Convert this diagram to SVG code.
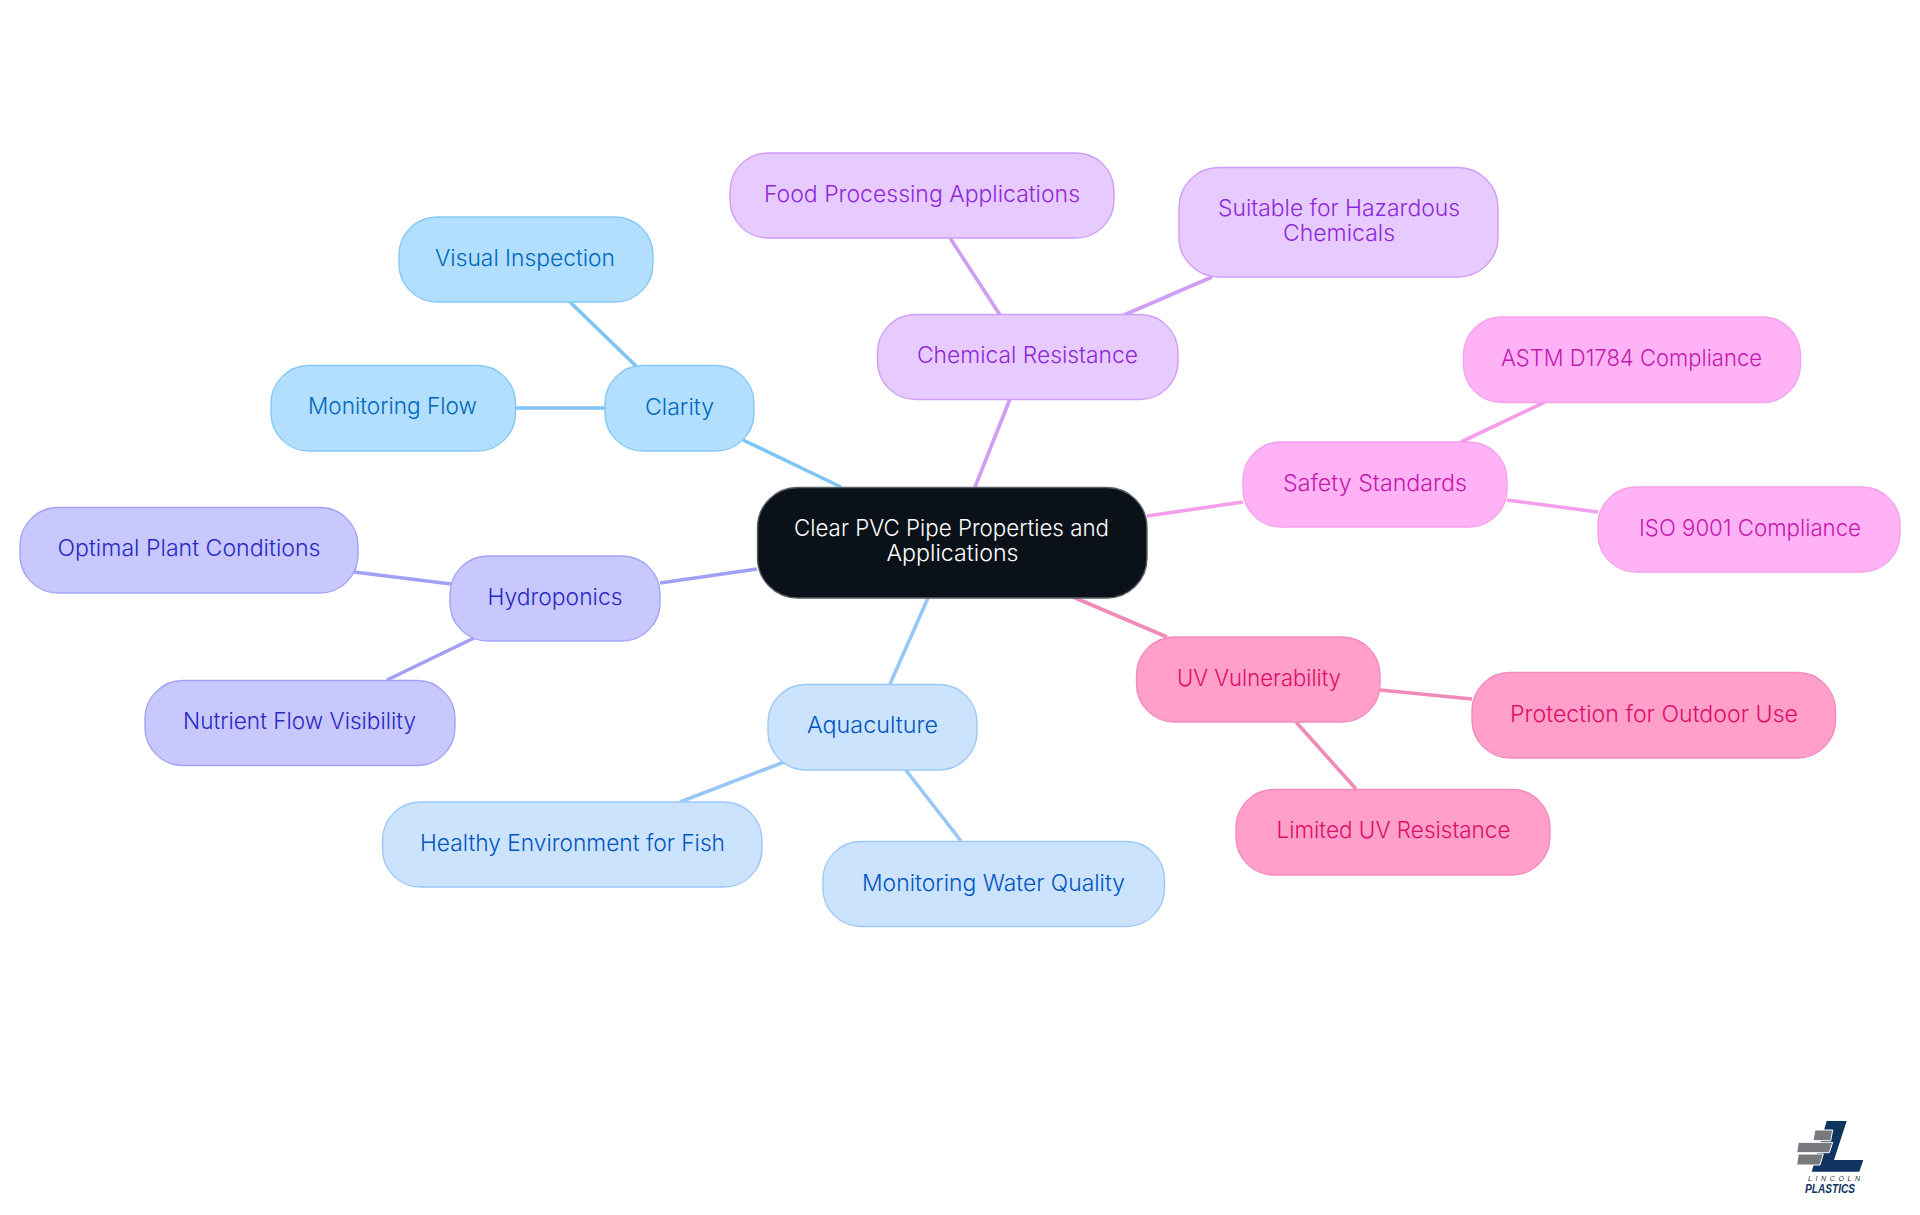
<svg xmlns="http://www.w3.org/2000/svg" width="1920" height="1215" viewBox="0 0 1920 1215">
<style>
text{font-family:"Inter","Noto Sans","Liberation Sans",sans-serif;font-size:23px;font-weight:350;text-anchor:middle}
.n{stroke-width:1.4}
.c line{stroke-width:3.6;fill:none}
.clar rect{fill:#B3DFFF;stroke:#85C8F5}.clar text{fill:#0068BC}
.hyd rect{fill:#C8C8FF;stroke:#A3A3F5}.hyd text{fill:#2828C4}
.aqu rect{fill:#CCE3FD;stroke:#9CC8F8}.aqu text{fill:#0055C0}
.che rect{fill:#E7CBFF;stroke:#CE9EF5}.che text{fill:#8F28D8}
.saf rect{fill:#FFB3F6;stroke:#F5A0EA}.saf text{fill:#C418AE}
.uvv rect{fill:#FF9FCA;stroke:#F28ABD}.uvv text{fill:#DC0E68}
.lc{stroke:#7FC4F5}.lh{stroke:#A0A0F5}.la{stroke:#99C7F5}.le{stroke:#CE9EF5}.ls{stroke:#F59EEB}.lu{stroke:#F08AB8}
</style>
<rect width="1920" height="1215" fill="#FFFFFF"/>
<g id="connectors" class="c">
<line class="lc" x1="743" y1="440" x2="841" y2="487"/>
<line class="lc" x1="570" y1="302" x2="636" y2="366"/>
<line class="lc" x1="516" y1="408" x2="605" y2="408"/>
<line class="le" x1="1010" y1="399" x2="975" y2="487"/>
<line class="le" x1="950" y1="238" x2="1000" y2="315"/>
<line class="le" x1="1212" y1="277" x2="1124" y2="315"/>
<line class="ls" x1="1147" y1="516" x2="1243" y2="502"/>
<line class="ls" x1="1545" y1="402" x2="1461" y2="442"/>
<line class="ls" x1="1507" y1="500" x2="1598" y2="512"/>
<line class="lh" x1="757" y1="569" x2="660" y2="583"/>
<line class="lh" x1="354" y1="572" x2="451" y2="584"/>
<line class="lh" x1="387" y1="680" x2="474" y2="638"/>
<line class="la" x1="928" y1="598" x2="890" y2="684"/>
<line class="la" x1="680" y1="802" x2="784" y2="762"/>
<line class="la" x1="905" y1="769" x2="961" y2="841"/>
<line class="lu" x1="1073" y1="597" x2="1167" y2="637"/>
<line class="lu" x1="1380" y1="690" x2="1472" y2="699"/>
<line class="lu" x1="1296" y1="722" x2="1356" y2="789"/>
</g>
<g id="central"><rect x="757.500" y="487.500" width="389.500" height="110.500" rx="40" fill="#0B1119" stroke="#5A5F66" stroke-width="1.400"/><text x="951.500" y="536" fill="#FFFFFF" textLength="315" lengthAdjust="spacingAndGlyphs">Clear PVC Pipe Properties and</text><text x="952.500" y="561" fill="#FFFFFF" textLength="132" lengthAdjust="spacingAndGlyphs">Applications</text></g>
<g id="clarity" class="clar"><rect class="n" x="605" y="365.500" width="149" height="85.500" rx="38"/><text x="679.500" y="415" textLength="69" lengthAdjust="spacingAndGlyphs">Clarity</text></g>
<g id="visual-inspection" class="clar"><rect class="n" x="399" y="217" width="254" height="85" rx="38"/><text x="525" y="266" textLength="180" lengthAdjust="spacingAndGlyphs">Visual Inspection</text></g>
<g id="monitoring-flow" class="clar"><rect class="n" x="271" y="365.500" width="244.500" height="85.500" rx="38"/><text x="392.500" y="414" textLength="169" lengthAdjust="spacingAndGlyphs">Monitoring Flow</text></g>
<g id="hydroponics" class="hyd"><rect class="n" x="450" y="556" width="210" height="85" rx="38"/><text x="555" y="605" textLength="135" lengthAdjust="spacingAndGlyphs">Hydroponics</text></g>
<g id="optimal-plant" class="hyd"><rect class="n" x="20" y="507.500" width="338" height="85.500" rx="38"/><text x="189" y="556" textLength="263" lengthAdjust="spacingAndGlyphs">Optimal Plant Conditions</text></g>
<g id="nutrient-flow" class="hyd"><rect class="n" x="145" y="680.500" width="310" height="85" rx="38"/><text x="299.500" y="729" textLength="233" lengthAdjust="spacingAndGlyphs">Nutrient Flow Visibility</text></g>
<g id="aquaculture" class="aqu"><rect class="n" x="768" y="684.500" width="209" height="85.500" rx="38"/><text x="872.500" y="733" textLength="131" lengthAdjust="spacingAndGlyphs">Aquaculture</text></g>
<g id="healthy-env" class="aqu"><rect class="n" x="382.500" y="802" width="379.500" height="85" rx="38"/><text x="572.500" y="851" textLength="305" lengthAdjust="spacingAndGlyphs">Healthy Environment for Fish</text></g>
<g id="monitoring-water" class="aqu"><rect class="n" x="823" y="841.500" width="341.500" height="85" rx="38"/><text x="993.500" y="890.500" textLength="263" lengthAdjust="spacingAndGlyphs">Monitoring Water Quality</text></g>
<g id="chemical-resistance" class="che"><rect class="n" x="877.500" y="314.500" width="300.500" height="85" rx="38"/><text x="1027.500" y="362.500" textLength="221" lengthAdjust="spacingAndGlyphs">Chemical Resistance</text></g>
<g id="food-processing" class="che"><rect class="n" x="730" y="153" width="384" height="85" rx="38"/><text x="922" y="201.500" textLength="316" lengthAdjust="spacingAndGlyphs">Food Processing Applications</text></g>
<g id="hazardous" class="che"><rect class="n" x="1179" y="167.500" width="319" height="109.500" rx="40"/><text x="1339" y="216" textLength="242" lengthAdjust="spacingAndGlyphs">Suitable for Hazardous</text><text x="1339" y="241" textLength="112" lengthAdjust="spacingAndGlyphs">Chemicals</text></g>
<g id="safety-standards" class="saf"><rect class="n" x="1243" y="442" width="264" height="85" rx="38"/><text x="1375" y="491" textLength="184" lengthAdjust="spacingAndGlyphs">Safety Standards</text></g>
<g id="astm" class="saf"><rect class="n" x="1463.500" y="317" width="337" height="85.500" rx="38"/><text x="1631.500" y="366" textLength="261" lengthAdjust="spacingAndGlyphs">ASTM D1784 Compliance</text></g>
<g id="iso" class="saf"><rect class="n" x="1598" y="487" width="302" height="85" rx="38"/><text x="1750" y="536" textLength="222" lengthAdjust="spacingAndGlyphs">ISO 9001 Compliance</text></g>
<g id="uv-vulnerability" class="uvv"><rect class="n" x="1136.500" y="637" width="243.500" height="85" rx="38"/><text x="1259" y="685.500" textLength="164" lengthAdjust="spacingAndGlyphs">UV Vulnerability</text></g>
<g id="protection" class="uvv"><rect class="n" x="1472" y="672.500" width="363.500" height="85.500" rx="38"/><text x="1654" y="721.500" textLength="288" lengthAdjust="spacingAndGlyphs">Protection for Outdoor Use</text></g>
<g id="limited-uv" class="uvv"><rect class="n" x="1236" y="789.500" width="314" height="85.500" rx="38"/><text x="1393.500" y="838" textLength="234" lengthAdjust="spacingAndGlyphs">Limited UV Resistance</text></g>
<g id="logo">
<polygon points="1826.700,1121 1846.700,1121 1834,1160 1863.300,1160 1859.300,1171.700 1811.700,1171.700" fill="#0F3460"/>
<g fill="#77797C" stroke="#FFFFFF" stroke-width="1">
<polygon points="1815,1130 1832.700,1130 1830.700,1140.700 1813,1140.700"/>
<polygon points="1798.300,1142.300 1832.700,1142.300 1829.300,1152.700 1796.700,1152.700"/>
<polygon points="1798.300,1154 1823.300,1154 1820,1165 1796.700,1165"/>
</g>
<text x="1834" y="1181" fill="#1F2F45" style="font-family:'Liberation Sans',sans-serif;font-size:7px;font-style:italic;font-weight:400" textLength="52">LINCOLN</text>
<text x="1830" y="1192.700" fill="#0F3460" style="font-family:'Liberation Sans',sans-serif;font-size:12px;font-style:italic;font-weight:700" textLength="50" lengthAdjust="spacingAndGlyphs">PLASTICS</text>
</g>
</svg>
